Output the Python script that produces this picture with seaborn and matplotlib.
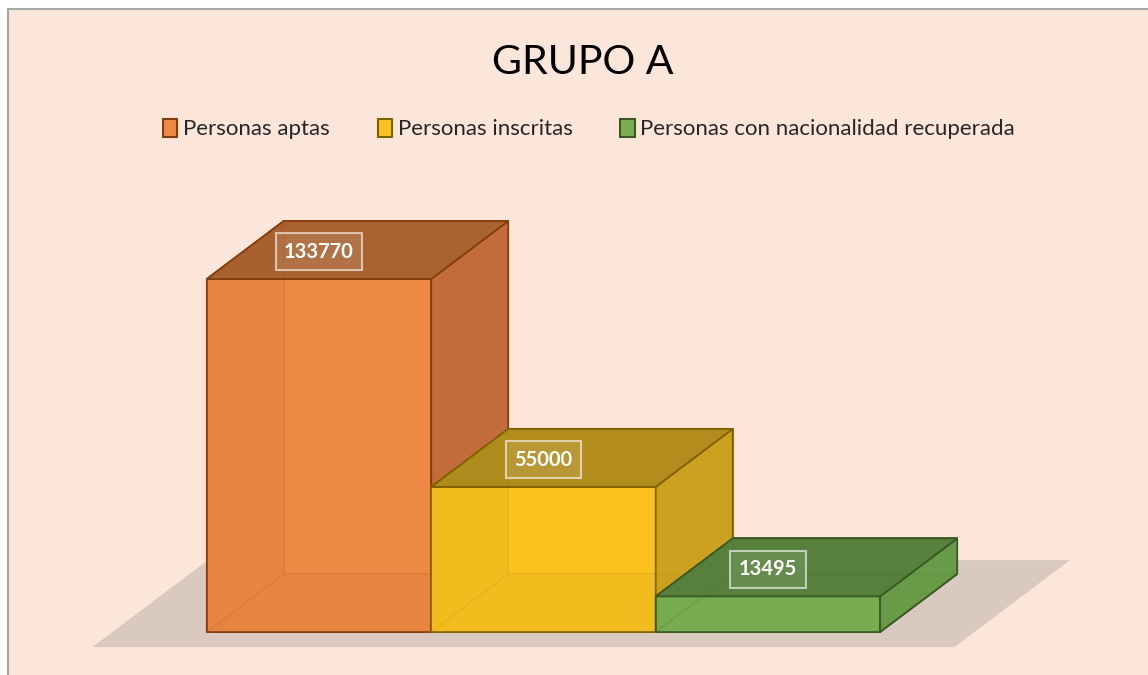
import numpy as np
import pandas as pd
import matplotlib
matplotlib.use("Agg")
import matplotlib.pyplot as plt
import seaborn as sns
from matplotlib.patches import Patch, Rectangle, Polygon

# ---- data ----
categorias = ["Personas aptas", "Personas inscritas", "Personas con nacionalidad recuperada"]
valores = [133770, 55000, 13495]
etiquetas = ["133770", "55000", "13495"]
titulo = "GRUPO A"

# ---- style ----
col_frente = ["#EE8944", "#FBC11E", "#79AE52"]
col_lado = ["#C06C39", "#CAA021", "#689A48"]
col_tapa = ["#A6612F", "#AE8A1D", "#567F3C"]
col_borde = ["#843C0C", "#7F6000", "#385723"]
col_fondo = "#FCE6DA"
col_sombra = "#D9C9BF"

sns.set_theme(style="white")
plt.rcParams["font.family"] = ["Lato", "DejaVu Sans"]

W, H = 1148, 675
fig = plt.figure(figsize=(W / 100, H / 100), dpi=100, facecolor="white")
fig.add_artist(Rectangle((8 / W, -0.05), 1.1, (H - 9) / H + 0.05, transform=fig.transFigure,
                         facecolor=col_fondo, edgecolor="#A6A6A6", lw=1.5, zorder=-5))

ax = fig.add_axes([0, 0, 1, 1])
ax.set_facecolor("none")

df = pd.DataFrame({"cat": categorias, "val": valores})

# depth of the pseudo-3D boxes (category units / value units)
DX = 0.343
DY = 0.1643 * max(valores)
n = len(valores)

# floor shadow
m = 0.42
va, vb = -0.26 * DY, 1.24 * DY
sx = DX / DY
sombra = Polygon([(-0.5 - m + va * sx, va), (n - 0.5 + m + va * sx, va),
                  (n - 0.5 + m + vb * sx, vb), (-0.5 - m + vb * sx, vb)],
                 closed=True, facecolor=col_sombra, edgecolor="none", zorder=1)
ax.add_patch(sombra)

# front faces via seaborn
sns.barplot(data=df, x="cat", y="val", hue="cat", palette=col_frente, width=1.0,
            saturation=1, legend=False, ax=ax)

for i, (cont, v) in enumerate(zip(ax.containers, valores)):
    base = 10 + 10 * i
    x0, x1 = i - 0.5, i + 0.5
    # hidden faces (seen through translucent front)
    for pts, c in [
        ([(x0, 0), (x1, 0), (x1 + DX, DY), (x0 + DX, DY)], col_lado[i]),
        ([(x0, 0), (x0 + DX, DY), (x0 + DX, v + DY), (x0, v)], col_lado[i]),
        ([(x0 + DX, DY), (x1 + DX, DY), (x1 + DX, v + DY), (x0 + DX, v + DY)], col_frente[i]),
    ]:
        ax.add_patch(Polygon(pts, closed=True, facecolor=c, edgecolor=col_borde[i],
                             lw=1.2, zorder=base))
    for bar in cont:
        bar.set_alpha(0.86)
        bar.set_edgecolor(col_borde[i])
        bar.set_linewidth(1.3)
        bar.set_zorder(base + 1)
    # side face
    ax.add_patch(Polygon([(x1, 0), (x1 + DX, DY), (x1 + DX, v + DY), (x1, v)], closed=True,
                         facecolor=col_lado[i], edgecolor=col_borde[i], lw=1.3,
                         alpha=0.95, zorder=base + 2))
    # top face
    ax.add_patch(Polygon([(x0, v), (x1, v), (x1 + DX, v + DY), (x0 + DX, v + DY)], closed=True,
                         facecolor=col_tapa[i], edgecolor=col_borde[i], lw=1.3,
                         alpha=0.95, zorder=base + 3))
    # value label
    ax.text(i, v + 0.47 * DY, etiquetas[i], ha="center", va="center", color="white",
            fontsize=14.5, fontweight="bold", zorder=100,
            bbox=dict(boxstyle="square,pad=0.42", facecolor=(1, 1, 1, 0.1),
                      edgecolor=(1, 1, 1, 0.6), lw=1.5))

ax.set_xlim(-1.421, 3.693)
ax.set_ylim(-16294, 239485)
ax.axis("off")

# title
fig.text(583 / W, 1 - 62 / H, titulo, ha="center", va="center", fontsize=29.5, color="black")

# legend
handles = [Patch(facecolor=col_frente[i], edgecolor=col_borde[i], lw=1.5, label=categorias[i])
           for i in range(n)]
fig.legend(handles=handles, loc="center", bbox_to_anchor=(589 / W, 1 - 129 / H), ncol=3,
           frameon=False, fontsize=16, handlelength=0.65, handleheight=0.9,
           handletextpad=0.25, columnspacing=2.15, borderpad=0)

fig.savefig("out.png", dpi=100, facecolor="white")
